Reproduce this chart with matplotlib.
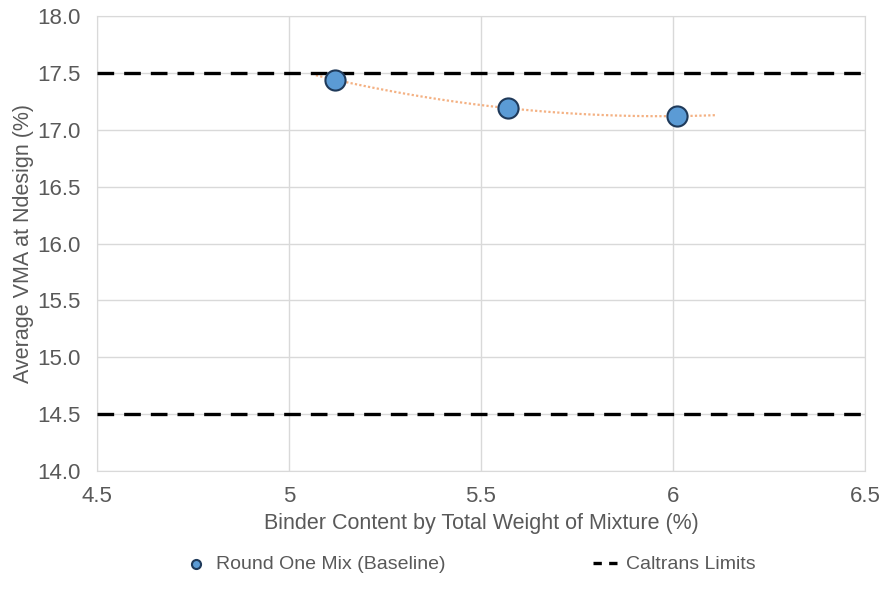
import matplotlib.pyplot as plt
from matplotlib.lines import Line2D
import numpy as np

plt.rcParams['font.family'] = ['Liberation Sans', 'DejaVu Sans']

# data
binder = [5.12, 5.57, 6.01]
vma = [17.44, 17.19, 17.12]
limits = [17.5, 14.5]
trend_range = [5.07, 6.11]

grey = '#595959'

fig = plt.figure(figsize=(8.86, 6.07), dpi=100)
ax = fig.add_axes([97/886, 1-471/607, (865-97)/886, (471-16)/607])

# order 2 trendline (Excel style) through the points
coef = np.polyfit(binder, vma, 2)
xt = np.linspace(trend_range[0], trend_range[1], 100)
ax.plot(xt, np.polyval(coef, xt), color='#F4B183', lw=1.6, ls=(0, (1, 1)), zorder=2)

for lim in limits:
    ax.axhline(lim, color='black', lw=2.4, ls=(0, (5, 3)), zorder=3)

pts = ax.scatter(binder, vma, s=210, color='#5B9BD5', edgecolor='#1F3A5A', lw=1.5,
                 zorder=4, label='Round One Mix (Baseline)')

ax.set_xlim(4.5, 6.5)
ax.set_ylim(14.0, 18.0)
ax.set_xticks([4.5, 5, 5.5, 6, 6.5])
ax.set_xticklabels(['4.5', '5', '5.5', '6', '6.5'])
ax.set_yticks(np.arange(14.0, 18.01, 0.5))
ax.set_yticklabels(['%.1f' % v for v in np.arange(14.0, 18.01, 0.5)])
ax.grid(True, color='#D9D9D9', lw=1)
ax.set_axisbelow(True)
for s in ax.spines.values():
    s.set_color('#D9D9D9')
ax.tick_params(length=0, labelsize=16, colors=grey)
ax.tick_params(axis='x', pad=11)
ax.tick_params(axis='y', pad=12)
ax.set_xlabel('Binder Content by Total Weight of Mixture (%)', fontsize=15.5, color=grey, labelpad=4)
ax.set_ylabel('Average VMA at Ndesign (%)', fontsize=15.5, color=grey, labelpad=2)

lim_handle = Line2D([], [], color='black', lw=2.4, ls=(0, (2.5, 2.2)))
leg = fig.legend([pts, lim_handle], ['Round One Mix (Baseline)', 'Caltrans Limits'],
                 loc='center', bbox_to_anchor=(0.53, 0.07), ncol=2,
                 frameon=False, fontsize=14, columnspacing=7.6, handlelength=1.3,
                 markerscale=0.45, handletextpad=0.4)
for t in leg.get_texts():
    t.set_color(grey)

fig.savefig('out.png', dpi=100)
